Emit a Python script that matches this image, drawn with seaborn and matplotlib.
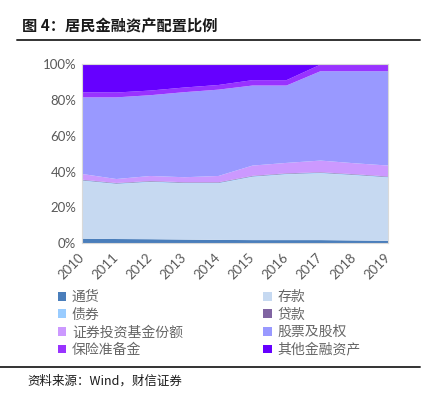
import matplotlib
matplotlib.use("Agg")
import matplotlib.pyplot as plt
from matplotlib.patches import Patch
from matplotlib.lines import Line2D
from matplotlib.ticker import PercentFormatter
import seaborn as sns

years = [2010, 2011, 2012, 2013, 2014, 2015, 2016, 2017, 2018, 2019]
currency = [2.8, 2.6, 2.5, 2.3, 2.1, 2.0, 2.0, 2.0, 1.8, 1.6]
deposit = [32.2, 30.6, 31.8, 31.3, 31.5, 35.2, 36.6, 37.2, 36.3, 35.2]
bonds = [0.4, 0.4, 0.4, 0.4, 0.4, 0.4, 0.4, 0.4, 0.4, 0.4]
loans = [0.3, 0.3, 0.3, 0.3, 0.3, 0.3, 0.3, 0.3, 0.3, 0.3]
funds = [3.2, 2.2, 2.8, 2.8, 3.5, 5.7, 5.8, 6.5, 6.1, 6.1]
equity = [42.8, 45.6, 45.1, 47.5, 48.2, 44.7, 43.2, 49.9, 51.4, 52.7]
insurance = [2.8, 2.7, 2.6, 2.6, 2.6, 3.0, 3.0, 3.7, 3.7, 3.7]
other = [15.5, 15.6, 14.5, 12.8, 11.4, 8.7, 8.7, 0.0, 0.0, 0.0]

labels = ["通货", "存款", "债券", "贷款", "证券投资基金份额", "股票及股权", "保险准备金", "其他金融资产"]
colors = ["#4A7EBB", "#C6D9F1", "#99CCFF", "#8064A2", "#CC99FF", "#9999FF", "#9933FF", "#6600FF"]

sns.set_style("white")
plt.rcParams["font.family"] = ["Noto Sans CJK SC", "DejaVu Sans"]

fig = plt.figure(figsize=(4.38, 3.98), dpi=100)
ax = fig.add_axes([0.187, 0.389, 0.699, 0.45])

ax.stackplot(years, currency, deposit, bonds, loans, funds, equity, insurance, other,
             colors=colors, linewidth=0)
ax.set_xlim(2010, 2019)
ax.set_ylim(0, 100)
ax.set_xticks(years)
ax.set_xticklabels([str(y) for y in years], rotation=45, ha="right", va="center",
                   rotation_mode="anchor", family="Lato", fontsize=9.5, color="#595959")
ax.set_yticks([0, 20, 40, 60, 80, 100])
ax.yaxis.set_major_formatter(PercentFormatter(decimals=0))
for t in ax.get_yticklabels():
    t.set_family("Lato")
    t.set_fontsize(9.5)
    t.set_color("#595959")
ax.tick_params(axis="both", direction="in", length=4, color="#E0E0E0", width=1, pad=4)
ax.tick_params(axis="x", pad=9)
for s in ax.spines.values():
    s.set_color("#D9D9D9")
    s.set_linewidth(0.8)

# header and footer
fig.text(22 / 438, 1 - 26 / 398, "图 4：居民金融资产配置比例", fontsize=11, fontweight="bold",
         va="center", ha="left", color="#1a1a1a")
fig.add_artist(Line2D([17 / 438, 420 / 438], [1 - 40 / 398, 1 - 40 / 398], color="#333333", linewidth=1.4))
fig.add_artist(Line2D([0, 420 / 438], [1 - 367 / 398, 1 - 367 / 398], color="#333333", linewidth=1.4))
fig.text(27 / 438, 1 - 381 / 398, "资料来源：Wind，财信证券", fontsize=9, style="italic",
         va="center", ha="left", color="#1a1a1a")

# legend: row order as in the reference (two columns)
order = [0, 2, 4, 6, 1, 3, 5, 7]
handles = [Patch(facecolor=colors[i], edgecolor="none", label=labels[i]) for i in order]
fig.legend(handles=handles, loc="upper left", bbox_to_anchor=(58 / 438, 1 - 290 / 398),
           ncol=2, frameon=False, fontsize=10, labelcolor="#666666",
           handlelength=0.6, handleheight=0.6, handletextpad=0.4,
           labelspacing=0.26, columnspacing=5.8, borderaxespad=0, borderpad=0)

fig.savefig("out.png", dpi=100)
